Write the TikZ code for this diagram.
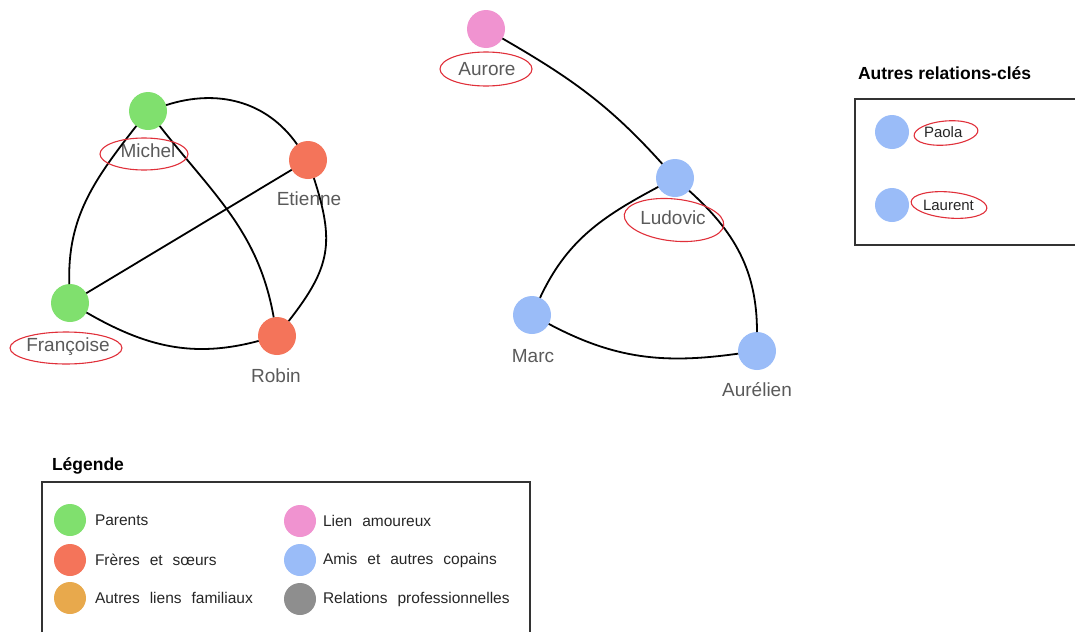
\documentclass[tikz,border=0pt]{standalone}
\usepackage{fontspec}
\setmainfont{Liberation Sans}
\usetikzlibrary{positioning}

\definecolor{parents}{HTML}{80E06E}
\definecolor{fratrie}{HTML}{F4745A}
\definecolor{famille}{HTML}{E8A94C}
\definecolor{amour}{HTML}{F093D0}
\definecolor{amis}{HTML}{9ABCF8}
\definecolor{pro}{HTML}{8E8E8E}
\definecolor{etiquette}{HTML}{5A5A5A}
\definecolor{cadre}{HTML}{333333}
\definecolor{rouge}{HTML}{E0303A}

\newcommand\largesespaces{\spaceskip=10pt plus 2pt\relax}

\begin{document}
\begin{tikzpicture}[
        x=1pt, y=-1pt,
        every node/.style={inner sep=0pt, outer sep=0pt},
        personne/.style={circle, minimum size=38pt},
        nom/.style={text=etiquette, font=\fontsize{19}{22}\selectfont, text height=14pt, text depth=4pt},
        lien/.style={line width=1.8pt},
        entoure/.style={draw=rouge, line width=1.1pt}
    ]

    \tikzset{
    pastille/.style={circle, minimum size=32pt},
    texte/.style={text=black!85, font=\fontsize{15.5}{18}\selectfont\largesespaces, anchor=west},
    titre/.style={font=\bfseries\fontsize{17.5}{20}\selectfont, anchor=west}
}

    \useasboundingbox (0,0) rectangle (1075,632);

    % famille
    \node[personne, fill=parents] (michel) at (148,111) {};
    \node[personne, fill=fratrie] (etienne) at (308,160) {};
    \node[personne, fill=parents] (francoise) at (70,303) {};
    \node[personne, fill=fratrie] (robin) at (277,336) {};

    \node[nom] (michel-nom) at (148,152) {Michel};
    \node[nom] (etienne-nom) at (309,200) {Etienne};
    \node[nom] (francoise-nom) at (68,346) {Françoise};
    \node[nom] (robin-nom) at (276,377) {Robin};

    \draw[lien] (michel) to[out=18, in=125] (etienne);
    \draw[lien] (michel) to[out=232, in=92] (francoise);
    \draw[lien] (michel) to[out=-52, in=100] (robin);
    \draw[lien] (etienne) -- (francoise);
    \draw[lien] (etienne) to[out=-72, in=52, looseness=1.2] (robin);
    \draw[lien] (francoise) to[out=-30, in=195] (robin);

    % amis
    \node[personne, fill=amour] (aurore) at (486,29) {};
    \node[personne, fill=amis] (ludovic) at (675,178) {};
    \node[personne, fill=amis] (marc) at (532,315) {};
    \node[personne, fill=amis] (aurelien) at (757,351) {};

    \node[nom] (aurore-nom) at (487,70) {Aurore};
    \node[nom] (ludovic-nom) at (673,219) {Ludovic};
    \node[nom] (marc-nom) at (533,357) {Marc};
    \node[nom] (aurelien-nom) at (757,391) {Aurélien};

    \draw[lien] (aurore) to[out=-30, in=132] (ludovic);
    \draw[lien] (ludovic) to[out=208, in=65] (marc);
    \draw[lien] (ludovic) to[out=-42, in=90] (aurelien);
    \draw[lien] (marc) to[out=-28, in=188] (aurelien);

    % noms entoures
    \draw[entoure] (144,154) ellipse [x radius=44, y radius=16];
    \draw[entoure] (66,348) ellipse [x radius=56, y radius=16];
    \draw[entoure] (486,69) ellipse [x radius=46, y radius=17];
    \draw[entoure] (674,220) ellipse [x radius=50, y radius=21, rotate=-6];

    % autres relations
    \node[titre] (titre-relations) at (858,73) {Autres relations-clés};
    \draw[cadre, line width=1.5pt] (1075,99) -- (855,99) -- (855,245) -- (1075,245);

    \node[pastille, fill=amis, minimum size=34pt] (paola) at (892,132) {};
    \node[pastille, fill=amis, minimum size=34pt] (laurent) at (892,205) {};
    \node[texte, font=\fontsize{15}{18}\selectfont] (paola-nom) [right=15pt of paola] {Paola};
    \node[texte, font=\fontsize{15}{18}\selectfont] (laurent-nom) [right=14pt of laurent] {Laurent};

    \draw[entoure] (946,133) ellipse [x radius=32, y radius=12, rotate=5];
    \draw[entoure] (949,205) ellipse [x radius=38, y radius=13, rotate=-5];

    % legende
    \node[titre] (titre-legende) at (52,466) {Légende};
    \draw[cadre, line width=1.5pt] (42,632) -- (42,482) -- (530,482) -- (530,632);

    \node[pastille, fill=parents] (leg-parents) at (70,520) {};
    \node[pastille, fill=fratrie] (leg-fratrie) at (70,560) {};
    \node[pastille, fill=famille] (leg-famille) at (70,598) {};
    \node[pastille, fill=amour] (leg-amour) at (300,521) {};
    \node[pastille, fill=amis] (leg-amis) at (300,560) {};
    \node[pastille, fill=pro] (leg-pro) at (300,599) {};

    \node[texte] (leg-parents-txt) [right=9pt of leg-parents] {Parents};
    \node[texte] (leg-fratrie-txt) [right=9pt of leg-fratrie] {Frères et sœurs};
    \node[texte] (leg-famille-txt) [right=9pt of leg-famille] {Autres liens familiaux};
    \node[texte] (leg-amour-txt) [right=7pt of leg-amour] {Lien amoureux};
    \node[texte] (leg-amis-txt) [right=7pt of leg-amis] {Amis et autres copains};
    \node[texte] (leg-pro-txt) [right=7pt of leg-pro] {Relations professionnelles};
\end{tikzpicture}
\end{document}
